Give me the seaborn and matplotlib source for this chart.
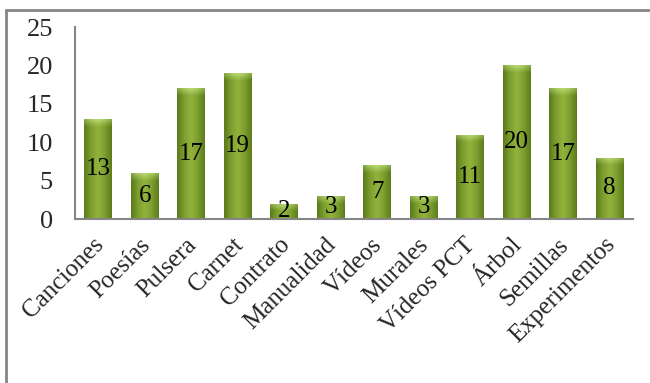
import numpy as np
import pandas as pd
import matplotlib
matplotlib.use("Agg")
import matplotlib.pyplot as plt
import matplotlib.transforms as mtrans
import seaborn as sns
from matplotlib.colors import LinearSegmentedColormap
from matplotlib.lines import Line2D

categories = ["Canciones", "Poesías", "Pulsera", "Carnet", "Contrato", "Manualidad",
              "Vídeos", "Murales", "Vídeos PCT", "Árbol", "Semillas", "Experimentos"]
values = [13, 6, 17, 19, 2, 3, 7, 3, 11, 20, 17, 8]
yticks = [0, 5, 10, 15, 20, 25]

sns.set_theme(style="white")
plt.rcParams["font.family"] = ["Liberation Serif", "DejaVu Serif"]

fig = plt.figure(figsize=(6.5, 3.83), dpi=100)
ax = fig.add_axes([75 / 650, 1 - 219 / 383, (633 - 75) / 650, (219 - 27) / 383])

df = pd.DataFrame({"cat": categories, "val": values})
sns.barplot(data=df, x="cat", y="val", color="#7a9a2a", saturation=1, width=0.6, ax=ax)

ax.set_ylim(0, 25)
ax.set_yticks(yticks)
ax.set_xlabel("")
ax.set_ylabel("")

# gradient fill for bars
body = LinearSegmentedColormap.from_list(
    "body", ["#5a7a1c", "#7d9e2e", "#92b43e", "#7d9e2e", "#5c7c1c"])
grad = np.linspace(0, 1, 64).reshape(1, -1)
container = ax.containers[0]
for p in container.patches:
    x0, y0 = p.get_x(), p.get_y()
    w, h = p.get_width(), p.get_height()
    im = ax.imshow(grad, cmap=body, extent=[x0, x0 + w, y0, y0 + h],
                   aspect="auto", zorder=p.get_zorder() + 0.1, interpolation="bicubic")
    im.set_clip_path(p)
    cap_h = min(1.0, h * 0.5)
    cap = np.zeros((16, 64, 4))
    cap[..., 0:3] = np.array([0.74, 0.87, 0.47])
    xs = np.linspace(-1, 1, 64)
    ys = np.linspace(0, 1, 16).reshape(-1, 1)
    cap[..., 3] = np.clip(0.95 * (1 - ys) * (1 - 0.5 * np.abs(xs)), 0, 1)
    im2 = ax.imshow(cap, extent=[x0, x0 + w, y0 + h - cap_h, y0 + h],
                    aspect="auto", zorder=p.get_zorder() + 0.2, interpolation="bicubic")
    im2.set_clip_path(p)
ax.set_xlim(-0.5, len(categories) - 0.5)
ax.set_ylim(0, 25)

ax.bar_label(container, labels=[str(v) for v in values], label_type="center",
             fontsize=18, color="black", zorder=5)

for s in ["top", "right"]:
    ax.spines[s].set_visible(False)
for s in ["left", "bottom"]:
    ax.spines[s].set_color("#868686")
    ax.spines[s].set_linewidth(1.5)

ax.tick_params(axis="y", length=0, pad=16, labelsize=19)
ax.tick_params(axis="x", length=0, pad=4, labelsize=18)
offset = mtrans.ScaledTranslation(-6 / 100, -9 / 100, fig.dpi_scale_trans)
for lbl in ax.get_xticklabels():
    lbl.set_rotation(45)
    lbl.set_ha("right")
    lbl.set_rotation_mode("anchor")
    lbl.set_transform(lbl.get_transform() + offset)

fig.add_artist(Line2D([6 / 650, 1.0], [1 - 10 / 383, 1 - 10 / 383],
                      transform=fig.transFigure, color="#868686", lw=2))
fig.add_artist(Line2D([6 / 650, 6 / 650], [0, 1 - 10 / 383],
                      transform=fig.transFigure, color="#868686", lw=2))

fig.savefig("out.png", dpi=100)
